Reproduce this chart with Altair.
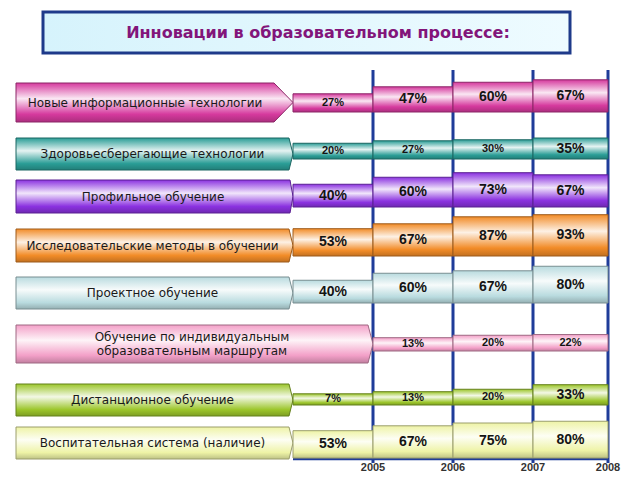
import altair as alt
import pandas as pd

# ---------------- data ----------------
categories = [
    "Новые информационные технологии",
    "Здоровьесберегающие технологии",
    "Профильное обучение",
    "Исследовательские методы в обучении",
    "Проектное обучение",
    "Обучение по индивидуальным\nобразовательным  маршрутам",
    "Дистанционное обучение",
    "Воспитательная система (наличие)",
]
years = ["2005", "2006", "2007", "2008"]
v2005 = [27, 20, 40, 53, 40, None, 7, 53]
v2006 = [47, 27, 60, 67, 60, 13, 13, 67]
v2007 = [60, 30, 73, 87, 67, 20, 20, 75]
v2008 = [67, 35, 67, 93, 80, 22, 33, 80]
title_text = "Инновации  в образовательном  процессе:"

# ---------------- styles / layout ----------------
colors = ["#D63A9E", "#2A9D96", "#8B32E0", "#F28C28",
          "#B9DBDF", "#F3A0C8", "#9CC62B", "#EEF3A6"]
W, H = 624, 464
col_edges = [293, 373, 453, 533, 608]
row_base = [112, 159, 207, 256, 303, 351, 405, 458]
pill_top = [83, 138, 180, 229, 277, 325, 384, 427]
pill_bot = [122, 170, 213, 262, 309, 363, 416, 459]
pill_flat = [274, 289, 290, 289, 289, 368, 289, 289]
pill_tip = [293, 293, 293, 293, 293, 373, 293, 293]
PILL_X0 = 16
LINE_H = 14
BAR_OFFSET, BAR_K = 25, 0.35
BLUE = "#1F3C99"

XS = alt.Scale(domain=[8, 8 + W], nice=False, zero=False)
YS = alt.Scale(domain=[8, 8 + H], nice=False, zero=False, reverse=True)


def mix(c, other, t):
    c = c.lstrip("#"); o = other.lstrip("#")
    a = [int(c[i:i + 2], 16) for i in (0, 2, 4)]
    b = [int(o[i:i + 2], 16) for i in (0, 2, 4)]
    m = [round(a[i] * (1 - t) + b[i] * t) for i in range(3)]
    return "#%02x%02x%02x" % tuple(m)


def grad(c):
    return alt.Gradient(
        gradient="linear", x1=0, x2=0, y1=0, y2=1,
        stops=[
            alt.GradientStop(offset=0, color=c),
            alt.GradientStop(offset=0.4, color=mix(c, "#ffffff", 0.88)),
            alt.GradientStop(offset=0.8, color=c),
            alt.GradientStop(offset=1, color=mix(c, "#000000", 0.2)),
        ],
    )


# ---------------- tables ----------------
series = [v2005, v2006, v2007, v2008]
bar_rows = []
for r in range(len(categories)):
    for c, vals in enumerate(series):
        v = vals[r]
        if v is None:
            continue
        bar_rows.append(dict(row=r, year=years[c], value=v,
                             x0=col_edges[c], x1=col_edges[c + 1],
                             base=row_base[r]))
bars = pd.DataFrame(bar_rows)

centers = [(t + b) / 2 for t, b in zip(pill_top, pill_bot)]
pills = pd.DataFrame(dict(
    row=list(range(len(categories))),
    name=categories,
    x=[PILL_X0] * len(categories),
    xc=[(PILL_X0 + f) / 2 for f in pill_flat],
    yc=centers,
    ty=[yc - (n.count("\n")) * LINE_H / 2 for yc, n in zip(centers, categories)],
))

layers = []

# title box
title_df = pd.DataFrame(dict(x0=[43], x1=[570], y0=[12], y1=[53],
                             xc=[318], yc=[33], t=[title_text]))
layers.append(alt.Chart(title_df).mark_rect(
    fill=alt.Gradient(gradient="linear", x1=0, x2=1, y1=0, y2=0,
                      stops=[alt.GradientStop(offset=0, color="#D6F3FC"),
                             alt.GradientStop(offset=1, color="#EEFBFF")]),
    stroke="#1E3A8A", strokeWidth=3,
).encode(x=alt.X("x0:Q", scale=XS, axis=None), x2="x1:Q",
         y=alt.Y("y0:Q", scale=YS, axis=None), y2="y1:Q"))
layers.append(alt.Chart(title_df).mark_text(
    font="DejaVu Sans", fontWeight="bold", fontSize=16, color="#82157A",
    align="center", baseline="middle",
).encode(x=alt.X("xc:Q", scale=XS, axis=None),
         y=alt.Y("yc:Q", scale=YS, axis=None), text="t:N"))

# blue grid lines (behind bars)
grid_df = pd.DataFrame(dict(x=col_edges[1:], y0=[70] * 4, y1=[463] * 4,
                            yl=[468] * 4, year=years))
layers.append(alt.Chart(grid_df).mark_rule(color=BLUE, strokeWidth=3).encode(
    x=alt.X("x:Q", scale=XS, axis=None),
    y=alt.Y("y0:Q", scale=YS, axis=None), y2="y1:Q"))
base_df = pd.DataFrame(dict(x0=[col_edges[0]], x1=[col_edges[-1]], y=[row_base[-1] + 1]))
layers.append(alt.Chart(base_df).mark_rule(color=BLUE, strokeWidth=2.5).encode(
    x=alt.X("x0:Q", scale=XS, axis=None), x2="x1:Q",
    y=alt.Y("y:Q", scale=YS, axis=None)))

# pills and bars per row
for r, c in enumerate(colors):
    h = pill_bot[r] - pill_top[r]
    u = h / 2.0
    fw = (pill_flat[r] - PILL_X0) / u
    tw = (pill_tip[r] - PILL_X0) / u
    path = f"M0,-1L{fw:.3f},-1L{tw:.3f},0L{fw:.3f},1L0,1Z"
    dark = mix(c, "#000000", 0.35)
    layers.append(alt.Chart(pills).transform_filter(alt.datum.row == r).mark_point(
        shape=path, size=h * h, filled=True, fill=grad(c), stroke=dark,
        strokeWidth=1, opacity=1,
    ).encode(x=alt.X("x:Q", scale=XS, axis=None),
             y=alt.Y("yc:Q", scale=YS, axis=None)))
    layers.append(alt.Chart(bars).transform_filter(alt.datum.row == r).transform_calculate(
        top=f"datum.base - ({BAR_OFFSET} + datum.value) * {BAR_K}"
    ).mark_rect(fill=grad(c), stroke=dark, strokeWidth=1).encode(
        x=alt.X("x0:Q", scale=XS, axis=None), x2="x1:Q",
        y=alt.Y("top:Q", scale=YS, axis=None), y2="base:Q"))

# pill labels
layers.append(alt.Chart(pills).mark_text(
    font="DejaVu Sans", fontSize=12, color="#1a1a1a", align="center",
    baseline="middle", lineBreak="\n", lineHeight=LINE_H,
).encode(x=alt.X("xc:Q", scale=XS, axis=None),
         y=alt.Y("ty:Q", scale=YS, axis=None), text="name:N"))

# value labels
layers.append(alt.Chart(bars).transform_calculate(
    hgt=f"({BAR_OFFSET} + datum.value) * {BAR_K}",
    mid="datum.base - datum.hgt / 2",
    xm="(datum.x0 + datum.x1) / 2",
    fs="datum.hgt < 19.5 ? 11 : 14",
    label="datum.value + '%'",
).mark_text(font="Liberation Sans", fontWeight="bold", color="#141414",
            align="center", baseline="middle").encode(
    x=alt.X("xm:Q", scale=XS, axis=None),
    y=alt.Y("mid:Q", scale=YS, axis=None),
    size=alt.Size("fs:Q", scale=None, legend=None),
    text="label:N"))

# year labels
layers.append(alt.Chart(grid_df).mark_text(
    font="Liberation Sans", fontWeight="bold", fontSize=11, color="#333333",
    align="center", baseline="middle").encode(
    x=alt.X("x:Q", scale=XS, axis=None),
    y=alt.Y("yl:Q", scale=YS, axis=None), text="year:N"))

chart = alt.layer(*layers).properties(
    width=W, height=H, padding=0, autosize="none", background="#ffffff"
).configure_view(stroke=None)

chart.save("out.html", embed_options={"renderer": "svg", "actions": False})
